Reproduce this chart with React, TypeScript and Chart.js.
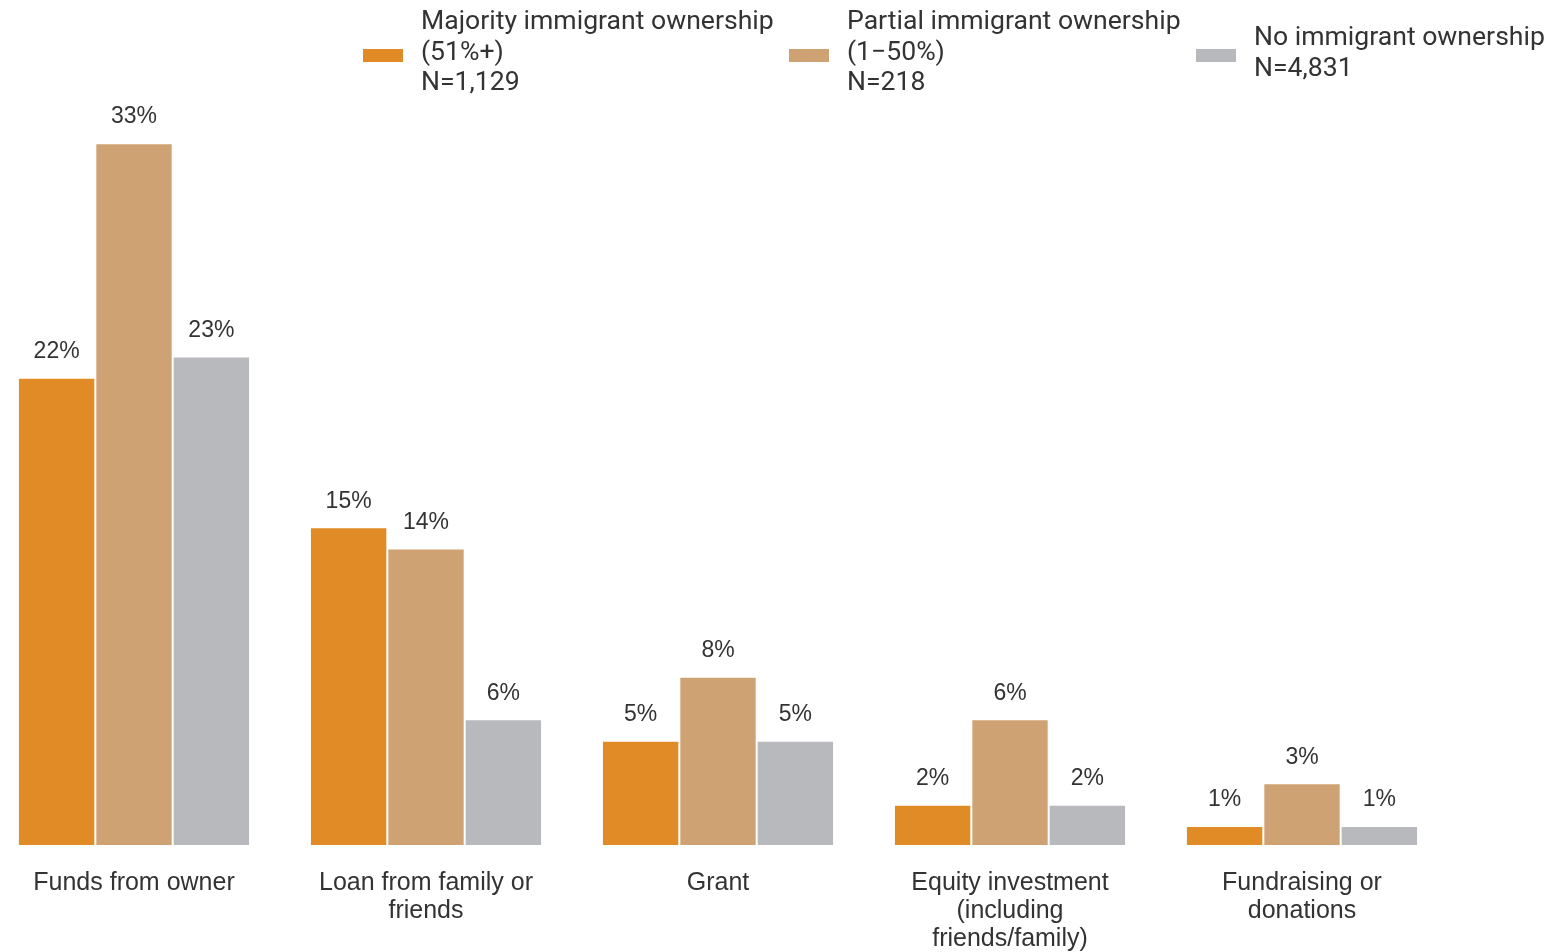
import React, { useEffect, useRef } from "react";
import { Chart, registerables } from "chart.js";

Chart.register(...registerables);

const categories: string[][] = [
  ["Funds from owner"],
  ["Loan from family or", "friends"],
  ["Grant"],
  ["Equity investment", "(including", "friends/family)"],
  ["Fundraising or", "donations"],
];

const seriesNames: string[][] = [
  ["Majority immigrant ownership", "(51%+)", "N=1,129"],
  ["Partial immigrant ownership", "(1\u221250%)", "N=218"],
  ["No immigrant ownership", "N=4,831"],
];

const majorityValues = [22, 15, 5, 2, 1];
const partialValues = [33, 14, 8, 6, 3];
const noneValues = [23, 6, 5, 2, 1];

const seriesColors = ["#E18B26", "#CFA273", "#B8B9BD"];

const Y_MIN = 0.11;
const Y_MAX = 38;
const PX_PER_UNIT = 21.34;
const BASELINE_Y = 845;

const TEXT_COLOR = "#333333";

const legendLeft = [363, 789, 1196];

const valueLabelPlugin = {
  id: "valueLabels",
  afterDatasetsDraw(chart: any) {
    const ctx = chart.ctx;
    ctx.save();
    ctx.font = "23px 'Liberation Sans', Arial, sans-serif";
    ctx.fillStyle = TEXT_COLOR;
    ctx.textAlign = "center";
    ctx.textBaseline = "middle";
    chart.data.datasets.forEach((ds: any, di: number) => {
      const meta = chart.getDatasetMeta(di);
      meta.data.forEach((bar: any, i: number) => {
        ctx.fillText(ds.data[i] + "%", bar.x, bar.y - 26);
      });
    });
    ctx.restore();
  },
};

export default function App() {
  const canvasRef = useRef<HTMLCanvasElement | null>(null);

  useEffect(() => {
    if (!canvasRef.current) return;
    const chart = new Chart(canvasRef.current, {
      type: "bar",
      data: {
        labels: categories as any,
        datasets: [
          { label: seriesNames[0].join(" "), data: majorityValues, backgroundColor: seriesColors[0] },
          { label: seriesNames[1].join(" "), data: partialValues, backgroundColor: seriesColors[1] },
          { label: seriesNames[2].join(" "), data: noneValues, backgroundColor: seriesColors[2] },
        ].map((d) => ({
          ...d,
          borderColor: "#ffffff",
          borderWidth: 1,
          borderSkipped: false,
          categoryPercentage: 0.795,
          barPercentage: 1,
        })),
      },
      options: {
        responsive: false,
        animation: false,
        devicePixelRatio: 1,
        layout: {
          padding: { top: BASELINE_Y - (Y_MAX - Y_MIN) * PX_PER_UNIT, bottom: 0, left: 0, right: 0 },
        },
        plugins: {
          legend: { display: false },
          tooltip: { enabled: false },
        },
        scales: {
          x: {
            grid: { display: false, drawTicks: false },
            border: { display: false },
            ticks: {
              autoSkip: false,
              maxRotation: 0,
              minRotation: 0,
              padding: 24.5,
              color: TEXT_COLOR,
              font: { family: "'Liberation Sans', Arial, sans-serif", size: 25, lineHeight: 1.12 },
            },
            afterFit: (scale: any) => {
              scale.height = 952 - BASELINE_Y;
            },
          },
          y: {
            display: false,
            min: Y_MIN,
            max: Y_MAX,
          },
        },
      },
      plugins: [valueLabelPlugin],
    });
    return () => chart.destroy();
  }, []);

  return (
    <div
      style={{
        position: "fixed",
        left: 0,
        top: 0,
        width: 1553,
        height: 952,
        overflow: "hidden",
        background: "#ffffff",
      }}
    >
      <canvas
        ref={canvasRef}
        width={1460}
        height={952}
        style={{ position: "absolute", left: -12, top: 0, width: 1460, height: 952 }}
      />
      {seriesNames.map((lines, i) => (
        <React.Fragment key={i}>
          <div
            style={{
              position: "absolute",
              left: legendLeft[i],
              top: 49,
              width: 40,
              height: 12.5,
              background: seriesColors[i],
            }}
          />
          <div
            style={{
              position: "absolute",
              left: legendLeft[i] + 58,
              top: 51,
              transform: "translateY(-50%)",
              fontFamily: "Roboto",
              fontSize: 26.6,
              lineHeight: "30.5px",
              color: TEXT_COLOR,
              whiteSpace: "nowrap",
            }}
          >
            {lines.map((l, j) => (
              <div key={j}>{l}</div>
            ))}
          </div>
        </React.Fragment>
      ))}
    </div>
  );
}
